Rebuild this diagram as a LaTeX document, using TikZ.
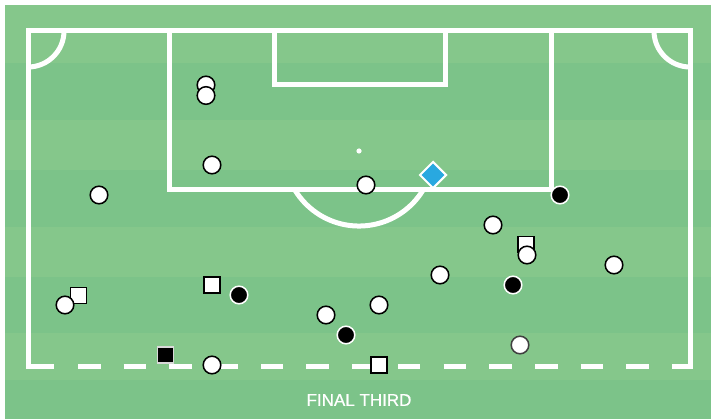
\documentclass[tikz,border=0pt]{standalone}
\usepackage{fontspec}
\usepackage{tikz}
\usetikzlibrary{shapes.geometric}
\newfontfamily\labelfont[FakeBold=0.6]{Liberation Sans}
\definecolor{pitchlight}{RGB}{133, 199, 139}
\definecolor{pitchdark}{RGB}{124, 195, 137}
\definecolor{carriercol}{RGB}{41, 168, 224}

\begin{document}
\begin{tikzpicture}[
    x=1pt, y=-1pt,
    pline/.style={draw=white, line width=5pt, line join=miter},
    wplr/.style={circle, draw=black, fill=white, line width=1.5pt,
                 minimum size=17.6pt, inner sep=0pt},
    bplr/.style={wplr, draw=white, fill=black},
    wsq/.style={rectangle, draw=black, fill=white, line width=1.5pt,
                minimum size=15.6pt, inner sep=0pt},
    bsq/.style={wsq, draw=white!85!black, fill=black},
    carrier/.style={diamond, draw=white, fill=carriercol, line width=2pt,
                    minimum size=27pt, inner sep=0pt}
  ]
  \useasboundingbox (0,0) rectangle (711,419);
  \fill[white] (0,0) rectangle (711,419);

  % Grass stripes
  \fill[pitchdark] (5,5) rectangle (711,419);
  \foreach \a/\b in {5/63, 120/170, 227/277, 333/380}
    \fill[pitchlight] (5,\a) rectangle (711,\b);

  % Pitch markings
  \draw[pline] (54,366) -- (28,366) -- (28,31) -- (690,31) -- (690,366) -- (672,366);
  \draw[pline, dash pattern=on 22.6pt off 23.09pt] (78,366) -- (672,366);
  \draw[pline] (169,31) -- (169,190) -- (551,190) -- (551,31);
  \draw[pline] (274,31) -- (274,84.5) -- (445,84.5) -- (445,31);
  \draw[pline] (423.07,190) arc[start angle=31.3, end angle=148.7, radius=75];
  \draw[pline] (64,31) arc[start angle=0, end angle=90, radius=36];
  \draw[pline] (654,31) arc[start angle=180, end angle=90, radius=36];
  \fill[white] (359,151) circle (2.6);

  % Squares
  \node[wsq] (s1) at (78.5,295.5) {};
  \node[wsq] (s2) at (212,285) {};
  \node[wsq] (s3) at (526,244.5) {};
  \node[wsq] (s4) at (379,365) {};
  \node[bsq] (k1) at (165.5,355) {};

  % White players
  \node[wplr] (w1) at (206,85) {};
  \node[wplr] (w2) at (206,95.5) {};
  \node[wplr] (w3) at (212,165) {};
  \node[wplr] (w4) at (99,195) {};
  \node[wplr] (w5) at (366,185) {};
  \node[wplr] (w6) at (493,225) {};
  \node[wplr] (w7) at (527,255) {};
  \node[wplr] (w8) at (614,265) {};
  \node[wplr] (w9) at (440,275) {};
  \node[wplr] (w10) at (379,305) {};
  \node[wplr] (w11) at (326,315) {};
  \node[wplr] (w12) at (65,305) {};
  \node[wplr] (w13) at (212,365) {};
  \node[wplr, draw=black!75] (w14) at (520,345) {};

  % Black players
  \node[bplr] (b1) at (560,195) {};
  \node[bplr] (b2) at (239,295) {};
  \node[bplr] (b3) at (513,285) {};
  \node[bplr] (b4) at (346,335) {};

  % Ball carrier
  \node[carrier] (bc) at (433,175) {};

  \node[text=white, font=\labelfont\fontsize{17}{20}\selectfont] (lbl) at (359,400) {FINAL THIRD};
\end{tikzpicture}
\end{document}
